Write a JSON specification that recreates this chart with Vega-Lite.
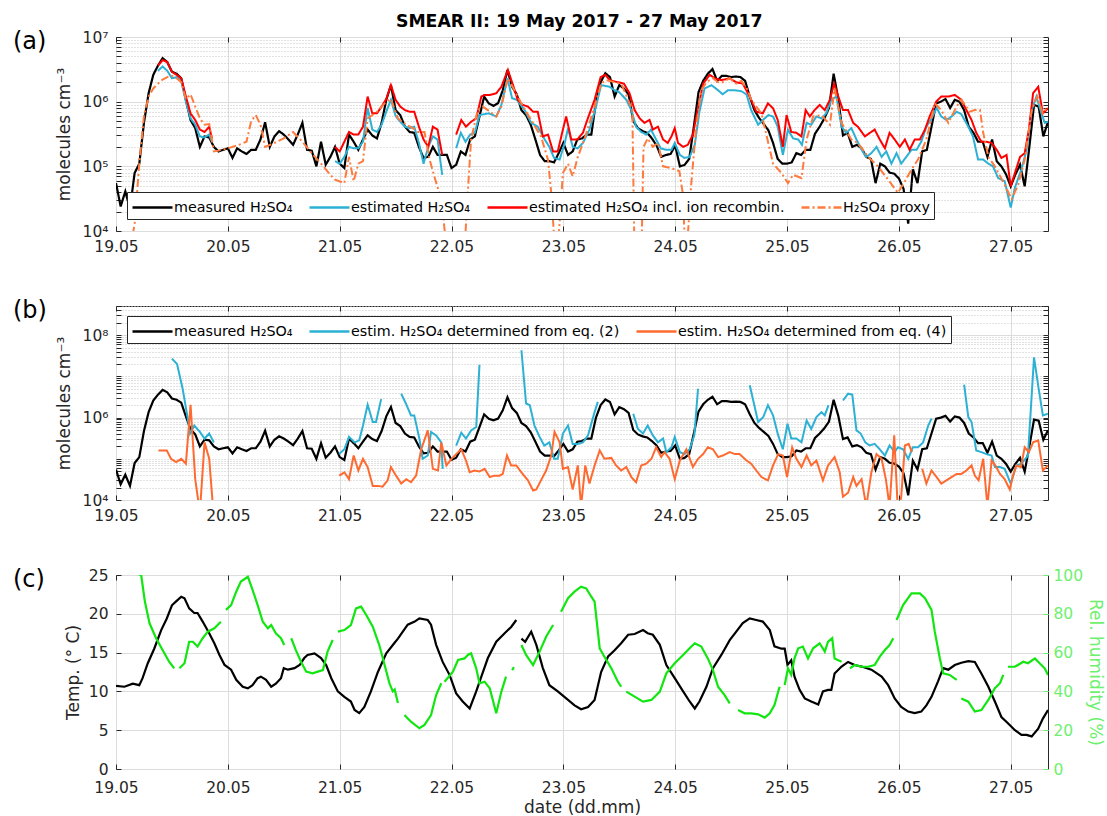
{
"$schema": "https://vega.github.io/schema/vega-lite/v6.json",
"padding": {"left": 12, "top": 13, "right": 4, "bottom": 0},
"title": {"text": "SMEAR II: 19 May 2017 - 27 May 2017", "fontSize": 17.3, "fontWeight": "bold", "anchor": "middle", "color": "#000", "offset": -1, "dx": 21},
"datasets": {
"meas": [{"h":0,"v":5.5e4},{"h":1,"v":2.4e4},{"h":2,"v":4.1e4},{"h":3,"v":2.2e4},{"h":4,"v":7.9e4},{"h":5,"v":1.1e5},{"h":6,"v":4.7e5},{"h":7,"v":1.35e6},{"h":8,"v":2.6e6},{"h":9,"v":3.6e6},{"h":10,"v":4.7e6},{"h":11,"v":4.1e6},{"h":12,"v":2.9e6},{"h":13,"v":2.7e6},{"h":14,"v":2.3e6},{"h":15,"v":1.07e6},{"h":16,"v":5.2e5},{"h":17,"v":3.9e5},{"h":18,"v":2.0e5},{"h":19,"v":2.9e5},{"h":20,"v":2.8e5},{"h":21,"v":2.0e5},{"h":22,"v":1.7e5},{"h":23,"v":1.8e5},{"h":24,"v":1.9e5},{"h":25,"v":1.35e5},{"h":26,"v":1.9e5},{"h":27,"v":1.7e5},{"h":28,"v":1.55e5},{"h":29,"v":1.8e5},{"h":30,"v":1.8e5},{"h":31,"v":2.6e5},{"h":32,"v":4.8e5},{"h":33,"v":2.0e5},{"h":34,"v":2.9e5},{"h":35,"v":3.5e5},{"h":36,"v":3.1e5},{"h":37,"v":2.6e5},{"h":38,"v":2.15e5},{"h":39,"v":3.1e5},{"h":40,"v":4.7e5},{"h":41,"v":1.8e5},{"h":42,"v":1.75e5},{"h":43,"v":1.0e5},{"h":44,"v":2.4e5},{"h":45,"v":1.06e5},{"h":46,"v":1.4e5},{"h":47,"v":2.0e5},{"h":48,"v":1.1e5},{"h":49,"v":9.4e4},{"h":50,"v":3.1e5},{"h":51,"v":2.4e5},{"h":52,"v":1.8e5},{"h":53,"v":2.6e5},{"h":54,"v":3.7e5},{"h":55,"v":3.0e5},{"h":56,"v":2.7e5},{"h":57,"v":4.7e5},{"h":58,"v":1.07e6},{"h":59,"v":1.8e6},{"h":60,"v":7.4e5},{"h":61,"v":6.2e5},{"h":62,"v":4.1e5},{"h":63,"v":3.4e5},{"h":64,"v":3.3e5},{"h":65,"v":2.0e5},{"h":66,"v":1.35e5},{"h":67,"v":1.4e5},{"h":68,"v":2.0e5},{"h":69,"v":1.5e5},{"h":70,"v":1.5e5},{"h":71,"v":1.5e5},{"h":72,"v":9.4e4},{"h":73,"v":1.06e5},{"h":74,"v":1.7e5},{"h":75,"v":1.5e5},{"h":76,"v":2.6e5},{"h":77,"v":2.9e5},{"h":78,"v":5.9e5},{"h":79,"v":1.2e6},{"h":80,"v":9.4e5},{"h":81,"v":8.6e5},{"h":82,"v":9.5e5},{"h":83,"v":1.5e6},{"h":84,"v":3.1e6},{"h":85,"v":1.7e6},{"h":86,"v":1.3e6},{"h":87,"v":7.4e5},{"h":88,"v":6.2e5},{"h":89,"v":4.4e5},{"h":90,"v":2.6e5},{"h":91,"v":1.5e5},{"h":92,"v":1.2e5},{"h":93,"v":1.2e5},{"h":94,"v":1.15e5},{"h":95,"v":1.6e5},{"h":96,"v":2.3e5},{"h":97,"v":1.5e5},{"h":98,"v":1.7e5},{"h":99,"v":2.6e5},{"h":100,"v":2.7e5},{"h":101,"v":3.1e5},{"h":102,"v":3.1e5},{"h":103,"v":1.0e6},{"h":104,"v":2.0e6},{"h":105,"v":2.75e6},{"h":106,"v":2.4e6},{"h":107,"v":1.2e6},{"h":108,"v":1.8e6},{"h":109,"v":1.6e6},{"h":110,"v":1.3e6},{"h":111,"v":5.0e5},{"h":112,"v":3.9e5},{"h":113,"v":3.5e5},{"h":114,"v":3.3e5},{"h":115,"v":2.7e5},{"h":116,"v":2.1e5},{"h":117,"v":1.4e5},{"h":118,"v":1.5e5},{"h":119,"v":1.55e5},{"h":120,"v":2.1e5},{"h":121,"v":1.0e5},{"h":122,"v":1.05e5},{"h":123,"v":1.3e5},{"h":124,"v":4.1e5},{"h":125,"v":1.4e6},{"h":126,"v":2.1e6},{"h":127,"v":2.7e6},{"h":128,"v":3.2e6},{"h":129,"v":2.1e6},{"h":130,"v":2.5e6},{"h":131,"v":2.5e6},{"h":132,"v":2.4e6},{"h":133,"v":2.45e6},{"h":134,"v":2.4e6},{"h":135,"v":2.1e6},{"h":136,"v":1.2e6},{"h":137,"v":7.4e5},{"h":138,"v":5.6e5},{"h":139,"v":4.5e5},{"h":140,"v":3.6e5},{"h":141,"v":2.3e5},{"h":142,"v":1.3e5},{"h":143,"v":1.1e5},{"h":144,"v":1.1e5},{"h":145,"v":1.15e5},{"h":146,"v":1.6e5},{"h":147,"v":1.5e5},{"h":148,"v":1.8e5},{"h":149,"v":1.8e5},{"h":150,"v":3.2e5},{"h":151,"v":4.1e5},{"h":152,"v":5.5e5},{"h":153,"v":8.0e5},{"h":154,"v":2.7e6},{"h":155,"v":1.1e6},{"h":156,"v":3.0e5},{"h":157,"v":3.3e5},{"h":158,"v":2.0e5},{"h":159,"v":2.15e5},{"h":160,"v":1.9e5},{"h":161,"v":1.4e5},{"h":162,"v":1.3e5},{"h":163,"v":5.5e4},{"h":164,"v":1.1e5},{"h":165,"v":1.0e5},{"h":166,"v":8.0e4},{"h":167,"v":7.7e4},{"h":168,"v":6.5e4},{"h":169,"v":4.5e4},{"h":170,"v":1.3e4},{"h":171,"v":9.0e4},{"h":172,"v":5.5e4},{"h":173,"v":1.7e5},{"h":174,"v":1.8e5},{"h":175,"v":4.1e5},{"h":176,"v":9.4e5},{"h":177,"v":1.0e6},{"h":178,"v":1.1e6},{"h":179,"v":8.0e5},{"h":180,"v":1.07e6},{"h":181,"v":1.0e6},{"h":182,"v":7.4e5},{"h":183,"v":4.1e5},{"h":184,"v":3.3e5},{"h":185,"v":2.4e5},{"h":186,"v":2.4e5},{"h":187,"v":1.4e5},{"h":188,"v":2.6e5},{"h":189,"v":1.2e5},{"h":190,"v":1.0e5},{"h":191,"v":7.5e4},{"h":192,"v":4.9e4},{"h":193,"v":7.5e4},{"h":194,"v":1.06e5},{"h":195,"v":4.9e4},{"h":196,"v":2.0e5},{"h":197,"v":8.9e5},{"h":198,"v":8.4e5},{"h":199,"v":2.9e5},{"h":200,"v":4.9e5}],
"est": [{"h":9,"v":3.0e6},{"h":10,"v":3.5e6},{"h":11,"v":3.0e6},{"h":12,"v":2.3e6},{"h":13,"v":2.4e6},{"h":14,"v":2.1e6},{"h":15,"v":1.0e6},{"h":16,"v":5.5e5},{"h":17,"v":4.4e5},{"h":18,"v":2.9e5},{"h":19,"v":2.8e5},{"h":20,"v":3.1e5},{"h":20.6,"v":2.4e5},{"h":21,"v":null},
{"h":47,"v":1.2e5},{"h":48,"v":1.1e5},{"h":49,"v":1.4e5},{"h":50,"v":2.0e5},{"h":51,"v":1.9e5},{"h":52,"v":1.9e5},{"h":53,"v":2.4e5},{"h":54,"v":8.0e5},{"h":55,"v":3.7e5},{"h":56,"v":3.4e5},{"h":57,"v":4.4e5},{"h":58,"v":7.0e5},{"h":59,"v":1.07e6},{"h":60,"v":6.0e5},{"h":61,"v":4.9e5},{"h":62,"v":4.1e5},{"h":63,"v":3.9e5},{"h":64,"v":4.1e5},{"h":65,"v":2.3e5},{"h":66,"v":1.1e5},{"h":67,"v":2.0e5},{"h":68,"v":2.9e5},{"h":69,"v":2.6e5},{"h":70,"v":7.4e4},{"h":71.5,"v":null},
{"h":73,"v":1.9e5},{"h":74,"v":3.3e5},{"h":75,"v":2.4e5},{"h":76,"v":3.1e5},{"h":77,"v":3.3e5},{"h":78,"v":6.2e5},{"h":80,"v":6.6e5},{"h":81.6,"v":5.9e5},{"h":82.7,"v":8.9e5},{"h":84,"v":2.3e6},{"h":85,"v":1.13e6},{"h":86,"v":1.07e6},{"h":87.7,"v":7.4e5},{"h":89.1,"v":4.7e5},{"h":90.5,"v":4.1e5},{"h":92,"v":2.6e5},{"h":93,"v":2.0e5},{"h":94,"v":1.35e5},{"h":95.2,"v":1.27e5},{"h":96.3,"v":2.3e5},{"h":97,"v":3.9e5},{"h":98,"v":2.0e5},{"h":99.1,"v":1.9e5},{"h":100.2,"v":2.3e5},{"h":101.6,"v":3.7e5},{"h":103,"v":8.4e5},{"h":104.1,"v":1.8e6},{"h":105.9,"v":1.7e6},{"h":107,"v":1.5e6},{"h":108,"v":1.4e6},{"h":109.5,"v":1.07e6},{"h":110.6,"v":7.4e5},{"h":111.6,"v":4.1e5},{"h":112.7,"v":3.4e5},{"h":113.8,"v":3.1e5},{"h":114.8,"v":3.7e5},{"h":115.9,"v":2.6e5},{"h":116.9,"v":1.9e5},{"h":118.1,"v":1.8e5},{"h":119.2,"v":1.8e5},{"h":119.9,"v":2.3e5},{"h":121,"v":1.5e5},{"h":122,"v":1.35e5},{"h":123.1,"v":1.4e5},{"h":124.2,"v":2.15e5},{"h":125.2,"v":7.0e5},{"h":126.3,"v":1.6e6},{"h":127.8,"v":1.8e6},{"h":129.2,"v":1.5e6},{"h":130.2,"v":1.3e6},{"h":131.3,"v":1.5e6},{"h":132.8,"v":1.5e6},{"h":134.2,"v":1.45e6},{"h":135.3,"v":1.3e6},{"h":136.3,"v":7.4e5},{"h":137.8,"v":4.4e5},{"h":138.8,"v":5.2e5},{"h":140,"v":6.2e5},{"h":141,"v":5.9e5},{"h":142,"v":4.1e5},{"h":143.1,"v":1.5e5},{"h":144.2,"v":3.7e5},{"h":145.3,"v":2.7e5},{"h":146.4,"v":2.6e5},{"h":147.2,"v":2.15e5},{"h":148.2,"v":4.7e5},{"h":149.2,"v":4.4e5},{"h":150.3,"v":5.9e5},{"h":151.4,"v":5.5e5},{"h":152.4,"v":6.6e5},{"h":153.5,"v":1.07e6},{"h":154.6,"v":1.2e6},{"h":155.7,"v":4.1e5},{"h":156.7,"v":3.3e5},{"h":157.8,"v":3.9e5},{"h":158.9,"v":2.6e5},{"h":160,"v":1.8e5},{"h":161,"v":1.4e5},{"h":162.1,"v":1.6e5},{"h":163.2,"v":2.0e5},{"h":164.3,"v":1.4e5},{"h":165.3,"v":1.7e5},{"h":166.4,"v":1.1e5},{"h":167.5,"v":1.6e5},{"h":168.5,"v":1.1e5},{"h":169.6,"v":1.4e5},{"h":170.7,"v":1.8e5},{"h":171.8,"v":1.8e5},{"h":172.8,"v":2.4e5},{"h":173.9,"v":4.1e5},{"h":175,"v":5.5e5},{"h":176.1,"v":8.0e5},{"h":177.1,"v":5.9e5},{"h":178.2,"v":5.2e5},{"h":179.3,"v":5.9e5},{"h":180.4,"v":7.0e5},{"h":181.4,"v":6.4e5},{"h":182.9,"v":4.1e5},{"h":183.9,"v":2.9e5},{"h":185,"v":1.27e5},{"h":186.1,"v":1.27e5},{"h":187.2,"v":1.1e5},{"h":188.2,"v":1.0e5},{"h":189.3,"v":6.6e4},{"h":190.7,"v":5.9e4},{"h":192,"v":2.3e4},{"h":192.9,"v":4.7e4},{"h":194.3,"v":9.0e4},{"h":195.4,"v":1.8e5},{"h":196.5,"v":7.4e5},{"h":197.5,"v":1.2e6},{"h":198.6,"v":6.6e5},{"h":199.3,"v":4.7e5},{"h":200,"v":4.9e5}],
"red": [{"h":9,"v":3.6e6},{"h":10,"v":4.4e6},{"h":11,"v":4.1e6},{"h":12,"v":2.9e6},{"h":13,"v":2.6e6},{"h":14,"v":2.3e6},{"h":15,"v":1.2e6},{"h":16,"v":6.6e5},{"h":17,"v":5.2e5},{"h":18,"v":3.7e5},{"h":19,"v":3.4e5},{"h":20,"v":4.1e5},{"h":20.6,"v":2.7e5},{"h":21,"v":null},
{"h":47,"v":2.0e5},{"h":48,"v":1.7e5},{"h":49,"v":2.4e5},{"h":50,"v":3.4e5},{"h":51,"v":3.1e5},{"h":52,"v":3.1e5},{"h":53,"v":4.1e5},{"h":54,"v":1.2e6},{"h":55,"v":6.6e5},{"h":56,"v":6.6e5},{"h":57,"v":8.4e5},{"h":58,"v":1.1e6},{"h":59,"v":1.8e6},{"h":60,"v":1.07e6},{"h":61,"v":8.4e5},{"h":62,"v":7.4e5},{"h":63,"v":7.0e5},{"h":64,"v":7.0e5},{"h":65,"v":4.1e5},{"h":66,"v":2.6e5},{"h":67,"v":2.0e5},{"h":68,"v":4.1e5},{"h":69,"v":3.7e5},{"h":70,"v":1.5e5},{"h":71.5,"v":null},
{"h":73,"v":3.1e5},{"h":74.1,"v":5.2e5},{"h":75.1,"v":4.1e5},{"h":76.2,"v":4.9e5},{"h":77.3,"v":5.5e5},{"h":78.4,"v":1.2e6},{"h":79.1,"v":1.27e6},{"h":80.2,"v":1.27e6},{"h":81.6,"v":1.35e6},{"h":82.7,"v":1.7e6},{"h":84.1,"v":3.1e6},{"h":85.2,"v":1.8e6},{"h":86.2,"v":1.07e6},{"h":87.3,"v":8.9e5},{"h":88.4,"v":8.4e5},{"h":89.5,"v":7.0e5},{"h":90.5,"v":7.0e5},{"h":91.6,"v":2.9e5},{"h":92.7,"v":3.1e5},{"h":93.8,"v":1.7e5},{"h":94.8,"v":1.7e5},{"h":95.9,"v":3.7e5},{"h":96.6,"v":5.9e5},{"h":97.7,"v":2.6e5},{"h":99,"v":2.6e5},{"h":100.2,"v":3.3e5},{"h":101,"v":4.9e5},{"h":102.7,"v":1.07e6},{"h":104,"v":2.4e6},{"h":105,"v":2.6e6},{"h":106,"v":2.15e6},{"h":107.7,"v":2.0e6},{"h":109,"v":1.9e6},{"h":110.2,"v":1.35e6},{"h":111.3,"v":7.4e5},{"h":112.4,"v":5.5e5},{"h":113.4,"v":4.7e5},{"h":114.5,"v":5.2e5},{"h":115.2,"v":3.7e5},{"h":116.3,"v":4.1e5},{"h":117.4,"v":2.6e5},{"h":118.4,"v":2.3e5},{"h":119.2,"v":2.9e5},{"h":119.9,"v":3.9e5},{"h":120.6,"v":2.3e5},{"h":121.7,"v":2.0e5},{"h":122.7,"v":2.15e5},{"h":123.8,"v":3.1e5},{"h":124.9,"v":7.9e5},{"h":126,"v":1.9e6},{"h":127.4,"v":2.6e6},{"h":128.5,"v":2.3e6},{"h":129.9,"v":2.15e6},{"h":131.7,"v":2.3e6},{"h":133.1,"v":2.0e6},{"h":134.5,"v":1.9e6},{"h":136,"v":1.2e6},{"h":137.4,"v":7.0e5},{"h":138.8,"v":6.6e5},{"h":139.9,"v":9.4e5},{"h":141,"v":7.9e5},{"h":142,"v":5.2e5},{"h":143.1,"v":2.0e5},{"h":143.9,"v":6.2e5},{"h":144.9,"v":3.4e5},{"h":146,"v":3.3e5},{"h":147.1,"v":2.9e5},{"h":148,"v":7.4e5},{"h":148.9,"v":5.9e5},{"h":149.9,"v":7.4e5},{"h":151,"v":8.9e5},{"h":152.1,"v":7.4e5},{"h":153.2,"v":1.07e6},{"h":154.1,"v":1.9e6},{"h":155,"v":1.2e6},{"h":156,"v":7.4e5},{"h":157.1,"v":7.4e5},{"h":158.2,"v":4.7e5},{"h":159.2,"v":4.1e5},{"h":160.7,"v":2.9e5},{"h":161.8,"v":3.3e5},{"h":162.8,"v":3.7e5},{"h":163.9,"v":2.6e5},{"h":165,"v":1.9e5},{"h":166,"v":3.3e5},{"h":167.1,"v":2.6e5},{"h":168.2,"v":2.0e5},{"h":169.3,"v":2.6e5},{"h":170.3,"v":1.8e5},{"h":171.4,"v":2.6e5},{"h":172.5,"v":2.6e5},{"h":173.6,"v":3.7e5},{"h":174.6,"v":5.9e5},{"h":176,"v":1.0e6},{"h":177.1,"v":1.2e6},{"h":178.6,"v":1.2e6},{"h":180,"v":1.27e6},{"h":181.4,"v":1.07e6},{"h":182.5,"v":7.4e5},{"h":183.6,"v":5.2e5},{"h":184.6,"v":3.3e5},{"h":185.7,"v":2.4e5},{"h":186.8,"v":2.4e5},{"h":187.9,"v":2.3e5},{"h":189,"v":1.8e5},{"h":190,"v":1.35e5},{"h":191.1,"v":1.5e5},{"h":192,"v":4.9e4},{"h":192.9,"v":7.9e4},{"h":194,"v":1.4e5},{"h":195,"v":1.6e5},{"h":195.9,"v":3.7e5},{"h":196.8,"v":1.35e6},{"h":197.9,"v":1.7e6},{"h":198.9,"v":6.6e5},{"h":200,"v":7.9e5}],
"proxy": [{"h":3,"v":5e3},{"h":4,"v":1.3e4},{"h":5,"v":1.1e5},{"h":6,"v":6e5},{"h":7,"v":1.2e6},{"h":8,"v":1.6e6},{"h":9,"v":1.9e6},{"h":10,"v":2.2e6},{"h":11,"v":2.4e6},{"h":12,"v":2.5e6},{"h":13,"v":2.3e6},{"h":14,"v":2.0e6},{"h":15,"v":1.1e6},{"h":16,"v":1.3e6},{"h":17,"v":8.4e5},{"h":18,"v":5.5e5},{"h":19,"v":4.4e5},{"h":20,"v":4.5e5},{"h":21,"v":1.7e5},{"h":22,"v":1.75e5},{"h":24,"v":1.9e5},{"h":26,"v":2.1e5},{"h":28,"v":2.4e5},{"h":29,"v":5.0e5},{"h":30,"v":6.2e5},{"h":31,"v":4.4e5},{"h":32,"v":2.0e5},{"h":34,"v":2.3e5},{"h":36,"v":2.7e5},{"h":38,"v":3.4e5},{"h":40,"v":2.4e5},{"h":42,"v":1.6e5},{"h":44,"v":1.1e5},{"h":46,"v":7.4e4},{"h":47,"v":6.2e4},{"h":49,"v":5.5e4},{"h":50,"v":1.4e5},{"h":51,"v":5.9e4},{"h":52,"v":1.1e5},{"h":53,"v":1.2e5},{"h":54,"v":5.5e5},{"h":56,"v":7.0e5},{"h":58,"v":1.0e6},{"h":59,"v":1.1e6},{"h":60.5,"v":5.5e5},{"h":62.3,"v":4.4e5},{"h":63.7,"v":3.9e5},{"h":64.8,"v":3.4e5},{"h":66.2,"v":3.4e5},{"h":67.3,"v":1.27e5},{"h":68.3,"v":7.0e4},{"h":69.8,"v":3.1e4},{"h":71,"v":5e3},{"h":74.8,"v":5e3},{"h":75.4,"v":3.1e4},{"h":76.2,"v":2.6e5},{"h":77.6,"v":7.4e5},{"h":78.7,"v":8.4e5},{"h":79.8,"v":7.4e5},{"h":81.6,"v":5.9e5},{"h":82.7,"v":8.4e5},{"h":84.1,"v":2.3e6},{"h":85.5,"v":1.5e6},{"h":87,"v":9.4e5},{"h":89.1,"v":5.2e5},{"h":91.2,"v":2.9e5},{"h":92.7,"v":1.27e5},{"h":93.4,"v":3.9e4},{"h":94.2,"v":5e3},{"h":94.8,"v":5e3},{"h":95.9,"v":7.9e4},{"h":97,"v":1.1e5},{"h":98,"v":7.0e4},{"h":99.1,"v":1.4e5},{"h":100.5,"v":2.6e5},{"h":102.7,"v":8.4e5},{"h":104.1,"v":1.9e6},{"h":105.2,"v":2.15e6},{"h":107,"v":2.0e6},{"h":108.4,"v":1.9e6},{"h":109.9,"v":1.07e6},{"h":110.8,"v":7.4e5},{"h":111.4,"v":1e3},{"h":112.6,"v":1e3},{"h":113.2,"v":2.0e5},{"h":114.1,"v":2.7e5},{"h":115.2,"v":2.0e5},{"h":116.3,"v":2.3e5},{"h":117.4,"v":1.0e5},{"h":119.2,"v":9.4e4},{"h":120.9,"v":8.4e4},{"h":121.6,"v":3.9e4},{"h":122.3,"v":3e3},{"h":123.4,"v":4.9e4},{"h":124.5,"v":4.1e5},{"h":125.6,"v":1.5e6},{"h":126.7,"v":2.0e6},{"h":128.1,"v":2.3e6},{"h":129.2,"v":2.0e6},{"h":130.2,"v":2.0e6},{"h":131.7,"v":2.3e6},{"h":133.1,"v":1.9e6},{"h":134.2,"v":2.1e6},{"h":135.6,"v":1.5e6},{"h":136.3,"v":1.07e6},{"h":138.5,"v":6.6e5},{"h":141,"v":1.1e5},{"h":142.8,"v":7.9e4},{"h":144.2,"v":5.5e4},{"h":145.3,"v":7.4e4},{"h":147.1,"v":6.6e4},{"h":148.2,"v":2.6e5},{"h":149.6,"v":5.9e5},{"h":151.4,"v":6.2e5},{"h":153.2,"v":4.4e5},{"h":154.2,"v":1.6e6},{"h":155.7,"v":4.7e5},{"h":157.8,"v":2.6e5},{"h":159.2,"v":2.3e5},{"h":161.4,"v":1.4e5},{"h":163.5,"v":1.0e5},{"h":165.7,"v":6.2e4},{"h":167.8,"v":3.9e4},{"h":169.3,"v":5.9e4},{"h":170.7,"v":8.9e4},{"h":172.1,"v":1.27e5},{"h":173.9,"v":2.6e5},{"h":175.7,"v":9.4e5},{"h":177.1,"v":7.4e5},{"h":178.6,"v":4.7e5},{"h":180.4,"v":8.4e5},{"h":181.4,"v":1.07e6},{"h":183.2,"v":7.0e5},{"h":184.3,"v":7.4e5},{"h":185.4,"v":7.4e5},{"h":186.1,"v":3.3e5},{"h":187.2,"v":1.4e5},{"h":188.6,"v":1.0e5},{"h":190.7,"v":5.2e4},{"h":192.2,"v":3.1e4},{"h":193.6,"v":5.2e4},{"h":195,"v":1.27e5},{"h":196.5,"v":7.4e5},{"h":197.7,"v":1.2e6},{"h":198.9,"v":6.6e5},{"h":200,"v":8.4e5}],
"eq2": [{"h":12,"v":2.7e7},{"h":13.1,"v":2.0e7},{"h":14.3,"v":5.0e6},{"h":15.4,"v":9.4e5},{"h":15.9,"v":4.1e5},{"h":16.8,"v":6.4e5},{"h":18,"v":4.5e5},{"h":19,"v":3.1e5},{"h":20,"v":4.1e5},{"h":21,"v":2.5e5},{"h":22,"v":null},
{"h":47.9,"v":1.3e5},{"h":49,"v":1.7e5},{"h":50,"v":3.4e5},{"h":51.2,"v":2.5e5},{"h":52.2,"v":2.8e5},{"h":53,"v":6.4e5},{"h":54,"v":2.05e6},{"h":55.1,"v":7.8e5},{"h":55.8,"v":7.8e5},{"h":56.9,"v":2.8e6},{"h":59,"v":null},
{"h":61.2,"v":3.8e6},{"h":62.2,"v":2.2e6},{"h":63.3,"v":1.13e6},{"h":64,"v":1.13e6},{"h":65.1,"v":3.1e5},{"h":65.8,"v":1.0e5},{"h":66.9,"v":1.2e5},{"h":67.6,"v":4.5e5},{"h":68.7,"v":3.7e5},{"h":69.8,"v":2.5e5},{"h":70.1,"v":5.7e4},{"h":71.5,"v":null},
{"h":73,"v":2.1e5},{"h":74.1,"v":4.3e5},{"h":75.1,"v":3.1e5},{"h":76.2,"v":4.9e5},{"h":77.3,"v":5.9e5},{"h":78,"v":1.9e7},{"h":83,"v":null},
{"h":87,"v":4.3e7},{"h":88,"v":2.2e6},{"h":88.8,"v":2.0e6},{"h":89.8,"v":6.4e5},{"h":90.9,"v":3.4e5},{"h":91.9,"v":2.1e5},{"h":93,"v":2.5e5},{"h":94,"v":1.0e5},{"h":94.8,"v":1.0e5},{"h":95.9,"v":4.1e5},{"h":97,"v":6.4e5},{"h":98,"v":2.3e5},{"h":99.1,"v":2.3e5},{"h":100.2,"v":2.5e5},{"h":101.3,"v":3.7e5},{"h":102.7,"v":1.36e6},{"h":103.4,"v":2.4e6},{"h":106,"v":null},
{"h":111,"v":1.24e6},{"h":112,"v":5.3e5},{"h":113.1,"v":4.1e5},{"h":114.1,"v":6.4e5},{"h":115.2,"v":3.7e5},{"h":116.3,"v":2.5e5},{"h":117.4,"v":3.1e5},{"h":118.1,"v":1.45e5},{"h":119.2,"v":1.9e5},{"h":119.9,"v":3.4e5},{"h":121,"v":1.45e5},{"h":122,"v":1.3e5},{"h":123.1,"v":1.7e5},{"h":124.1,"v":3.7e5},{"h":124.9,"v":5.0e6},{"h":130,"v":null},
{"h":136,"v":6.1e6},{"h":137.8,"v":7.8e5},{"h":138.9,"v":1.03e6},{"h":139.9,"v":2.0e6},{"h":141,"v":1.13e6},{"h":142.1,"v":3.7e5},{"h":143.1,"v":1.7e5},{"h":144.1,"v":7.1e5},{"h":144.9,"v":3.1e5},{"h":146,"v":3.1e5},{"h":147.1,"v":2.5e5},{"h":148.2,"v":8.5e5},{"h":149.2,"v":5.3e5},{"h":150.3,"v":1.03e6},{"h":151.4,"v":1.36e6},{"h":152.1,"v":1.13e6},{"h":152.9,"v":2.0e6},{"h":154.5,"v":null},
{"h":156,"v":2.6e6},{"h":157.1,"v":3.8e6},{"h":158,"v":3.6e6},{"h":158.9,"v":4.9e5},{"h":159.8,"v":4.1e5},{"h":160.8,"v":2.5e5},{"h":161.7,"v":2.1e5},{"h":162.8,"v":2.3e5},{"h":163.9,"v":1.7e5},{"h":165,"v":1.2e5},{"h":166,"v":2.1e5},{"h":167.1,"v":1.45e5},{"h":167.8,"v":1.9e5},{"h":168.9,"v":1.7e5},{"h":170,"v":1.0e5},{"h":171,"v":1.9e5},{"h":172.1,"v":1.9e5},{"h":173.2,"v":2.5e5},{"h":174.3,"v":6.4e5},{"h":175,"v":9.4e5},{"h":178,"v":null},
{"h":182,"v":6.3e6},{"h":182.9,"v":1.03e6},{"h":183.6,"v":7.8e5},{"h":184.6,"v":1.6e5},{"h":185.7,"v":1.45e5},{"h":186.8,"v":1.3e5},{"h":187.9,"v":1.2e5},{"h":188.6,"v":6.3e4},{"h":189.7,"v":6.3e4},{"h":190.7,"v":5.7e4},{"h":192,"v":2.5e4},{"h":193.2,"v":6.9e4},{"h":194.3,"v":7.6e4},{"h":195.7,"v":1.2e5},{"h":197,"v":2.9e7},{"h":198,"v":5.0e6},{"h":198.9,"v":1.13e6},{"h":200,"v":1.24e6}],
"eq4": [{"h":9.1,"v":1.6e5},{"h":10.9,"v":1.6e5},{"h":11.8,"v":1.0e5},{"h":12.9,"v":8.3e4},{"h":14,"v":1.0e5},{"h":15,"v":7.6e4},{"h":16,"v":2.05e6},{"h":17,"v":3.2e4},{"h":18,"v":5e3},{"h":19,"v":2.5e5},{"h":20,"v":1.0e5},{"h":20.9,"v":5e3},{"h":22,"v":null},
{"h":47.9,"v":3.9e4},{"h":49,"v":4.7e4},{"h":50,"v":3.2e4},{"h":51,"v":1.2e5},{"h":52,"v":5.2e4},{"h":53,"v":1.0e5},{"h":54,"v":6.3e4},{"h":55.1,"v":2.2e4},{"h":56.2,"v":2.2e4},{"h":57.2,"v":2.1e4},{"h":58.3,"v":3.0e4},{"h":59,"v":6.3e4},{"h":60.1,"v":3.9e4},{"h":61.2,"v":2.5e4},{"h":62.3,"v":3.2e4},{"h":63.3,"v":2.7e4},{"h":64.4,"v":3.9e4},{"h":65.5,"v":1.7e5},{"h":66.9,"v":4.9e5},{"h":68,"v":5.7e4},{"h":69.1,"v":5.2e4},{"h":69.8,"v":2.5e5},{"h":70.9,"v":6.9e4},{"h":72,"v":1.0e5},{"h":73,"v":1.3e5},{"h":74.1,"v":1.7e5},{"h":75.1,"v":9.1e4},{"h":75.9,"v":4.7e4},{"h":76.9,"v":5.2e4},{"h":78,"v":4.9e4},{"h":79.1,"v":5.7e4},{"h":80.2,"v":3.6e4},{"h":81.2,"v":3.9e4},{"h":82.3,"v":3.9e4},{"h":83,"v":4.3e4},{"h":83.9,"v":1.2e5},{"h":84.8,"v":6.9e4},{"h":85.9,"v":6.9e4},{"h":87,"v":4.7e4},{"h":88.4,"v":3.0e4},{"h":89.5,"v":1.7e4},{"h":90.2,"v":1.8e4},{"h":91.2,"v":3.0e4},{"h":92.3,"v":5.2e4},{"h":93.4,"v":1.2e5},{"h":94.1,"v":4.5e5},{"h":95.2,"v":2.5e5},{"h":95.9,"v":5.7e4},{"h":97,"v":6.3e4},{"h":98,"v":1.8e4},{"h":99.1,"v":6.9e4},{"h":99.8,"v":7e3},{"h":100.7,"v":6.9e4},{"h":101.6,"v":2.5e4},{"h":102.7,"v":6.9e4},{"h":103.8,"v":1.6e5},{"h":104.8,"v":1.0e5},{"h":106.3,"v":1.05e5},{"h":107.3,"v":6.9e4},{"h":108.4,"v":5.2e4},{"h":109.5,"v":6.3e4},{"h":110.6,"v":3.6e4},{"h":111.6,"v":2.7e4},{"h":112.7,"v":6.9e4},{"h":113.8,"v":7.6e4},{"h":114.9,"v":1.0e5},{"h":115.9,"v":1.9e5},{"h":117,"v":1.1e5},{"h":117.7,"v":1.45e5},{"h":118.8,"v":1.0e5},{"h":119.9,"v":3.2e4},{"h":121,"v":9.1e4},{"h":122.4,"v":1.7e5},{"h":123.8,"v":6.3e4},{"h":124.9,"v":1.0e5},{"h":126,"v":1.3e5},{"h":127,"v":1.9e5},{"h":128.1,"v":1.7e5},{"h":129.2,"v":1.1e5},{"h":130.2,"v":1.2e5},{"h":131.7,"v":1.45e5},{"h":132.8,"v":1.3e5},{"h":133.8,"v":1.3e5},{"h":135.3,"v":9.1e4},{"h":136.3,"v":7.6e4},{"h":137.4,"v":5.2e4},{"h":138.5,"v":3.6e4},{"h":139.9,"v":3.0e4},{"h":141,"v":6.9e4},{"h":142.1,"v":1.3e5},{"h":143.1,"v":1.2e5},{"h":144,"v":3.6e4},{"h":145.1,"v":1.9e5},{"h":146,"v":1.0e5},{"h":147.1,"v":6.3e4},{"h":148.2,"v":1.2e5},{"h":149.2,"v":6.9e4},{"h":150.3,"v":9.1e4},{"h":151.7,"v":3.0e4},{"h":152.8,"v":6.9e4},{"h":154.2,"v":1.1e5},{"h":155.3,"v":4.7e4},{"h":156,"v":1.2e4},{"h":157.1,"v":1.5e4},{"h":158.2,"v":3.6e4},{"h":158.9,"v":2.2e4},{"h":160,"v":3.2e4},{"h":161,"v":7e3},{"h":162.1,"v":4.7e4},{"h":163.2,"v":1.3e5},{"h":164.3,"v":1.0e5},{"h":165.2,"v":3.2e4},{"h":166,"v":7e3},{"h":167,"v":3.7e5},{"h":167.8,"v":5e3},{"h":168.5,"v":1.2e4},{"h":169.3,"v":2.1e5},{"h":170.1,"v":2.3e5},{"h":170.8,"v":1.45e5},{"h":172,"v":null},
{"h":173,"v":5.7e4},{"h":173.9,"v":2.5e4},{"h":175,"v":5.2e4},{"h":176.1,"v":3.6e4},{"h":177.1,"v":2.5e4},{"h":178.2,"v":3.0e4},{"h":179.3,"v":3.6e4},{"h":180.4,"v":4.3e4},{"h":181.4,"v":4.3e4},{"h":182.5,"v":5.2e4},{"h":183.6,"v":6.9e4},{"h":184.3,"v":3.9e4},{"h":185.1,"v":3.0e4},{"h":186.1,"v":1.0e5},{"h":187,"v":7e3},{"h":187.9,"v":9.1e4},{"h":188.7,"v":6.9e4},{"h":189.7,"v":4.3e4},{"h":190.7,"v":3.2e4},{"h":191.8,"v":1.8e4},{"h":192.5,"v":3.9e4},{"h":193.2,"v":6.9e4},{"h":194.2,"v":6.3e4},{"h":195,"v":1.9e5},{"h":195.9,"v":1.45e5},{"h":196.8,"v":2.5e5},{"h":197.9,"v":2.8e5},{"h":198.9,"v":5.2e4},{"h":200,"v":6.9e4}],
"temp": [{"h":0,"T":10.7},{"h":1.8,"T":10.6},{"h":3.6,"T":11.0},{"h":5,"T":10.8},{"h":5.7,"T":11.7},{"h":6.8,"T":13.6},{"h":8.2,"T":15.5},{"h":9.7,"T":17.9},{"h":10.9,"T":19.4},{"h":12,"T":21.1},{"h":12.9,"T":21.6},{"h":14,"T":22.2},{"h":14.7,"T":22.0},{"h":15.7,"T":20.7},{"h":16.8,"T":20.1},{"h":17.5,"T":20.1},{"h":18.6,"T":19.0},{"h":20,"T":17.5},{"h":21.1,"T":16.2},{"h":22.2,"T":14.7},{"h":23.3,"T":13.4},{"h":24.7,"T":12.8},{"h":25.8,"T":11.5},{"h":27.2,"T":10.6},{"h":28.3,"T":10.4},{"h":29.3,"T":10.8},{"h":30.4,"T":11.7},{"h":31.1,"T":11.9},{"h":32.2,"T":11.5},{"h":33.3,"T":10.6},{"h":34.3,"T":11.0},{"h":35.4,"T":11.7},{"h":36,"T":13.0},{"h":36.9,"T":12.8},{"h":38.3,"T":13.0},{"h":39.4,"T":13.4},{"h":40.4,"T":14.3},{"h":41.1,"T":14.7},{"h":42.6,"T":14.9},{"h":44,"T":14.3},{"h":45.1,"T":13.4},{"h":46.2,"T":11.7},{"h":47.6,"T":10.0},{"h":49,"T":9.3},{"h":50.4,"T":8.7},{"h":51.2,"T":7.6},{"h":52.2,"T":7.2},{"h":53.3,"T":8.0},{"h":54.7,"T":10.0},{"h":56.2,"T":12.5},{"h":58,"T":14.9},{"h":59.7,"T":16.2},{"h":60.5,"T":16.8},{"h":62.6,"T":18.6},{"h":64.1,"T":19.0},{"h":65.1,"T":19.4},{"h":66.9,"T":19.2},{"h":67.6,"T":18.6},{"h":68.7,"T":16.0},{"h":70.1,"T":13.8},{"h":71.6,"T":12.1},{"h":73,"T":9.75},{"h":74.4,"T":8.7},{"h":75.9,"T":7.8},{"h":77.3,"T":10.0},{"h":78.4,"T":11.9},{"h":79.8,"T":14.3},{"h":81.6,"T":16.4},{"h":83.4,"T":17.5},{"h":84.8,"T":18.3},{"h":85.9,"T":19.2},{"h":86.5,"T":null},{"h":87,"T":16.8},{"h":87.8,"T":16.4},{"h":89.1,"T":17.7},{"h":90.2,"T":16.0},{"h":91.6,"T":13.0},{"h":93,"T":10.8},{"h":94.8,"T":10.0},{"h":97,"T":8.9},{"h":98.4,"T":8.2},{"h":99.8,"T":7.7},{"h":101.3,"T":8.0},{"h":102.7,"T":8.9},{"h":104.1,"T":12.5},{"h":105.6,"T":14.5},{"h":107,"T":15.3},{"h":108.4,"T":16.2},{"h":109.9,"T":17.3},{"h":111.3,"T":17.4},{"h":113.1,"T":17.9},{"h":114.1,"T":17.5},{"h":115.2,"T":17.3},{"h":116.7,"T":16.0},{"h":118.1,"T":13.4},{"h":119.9,"T":11.7},{"h":121.7,"T":10.0},{"h":123.1,"T":8.7},{"h":124.2,"T":7.8},{"h":125.2,"T":8.7},{"h":126.7,"T":10.6},{"h":128.1,"T":13.0},{"h":129.9,"T":14.7},{"h":131.7,"T":16.6},{"h":133.1,"T":17.7},{"h":134.5,"T":18.8},{"h":136,"T":19.4},{"h":137.4,"T":19.2},{"h":138.8,"T":19.0},{"h":140.3,"T":17.9},{"h":141.3,"T":15.8},{"h":142.8,"T":15.5},{"h":143.5,"T":15.5},{"h":144.1,"T":13.4},{"h":144.9,"T":14.0},{"h":145.6,"T":11.9},{"h":146.7,"T":10.2},{"h":147.8,"T":9.1},{"h":149.2,"T":8.7},{"h":150.7,"T":8.3},{"h":151.7,"T":10.0},{"h":152.8,"T":10.2},{"h":153.5,"T":10.2},{"h":154.2,"T":12.3},{"h":155.7,"T":13.2},{"h":157.1,"T":13.8},{"h":158.5,"T":13.4},{"h":160,"T":13.2},{"h":162.1,"T":12.8},{"h":164.3,"T":11.9},{"h":165.7,"T":10.8},{"h":167.1,"T":9.1},{"h":168.5,"T":8.0},{"h":170,"T":7.4},{"h":171.4,"T":7.2},{"h":172.8,"T":7.4},{"h":173.9,"T":8.2},{"h":175,"T":9.3},{"h":176.4,"T":11.3},{"h":177.5,"T":13.0},{"h":178.6,"T":12.8},{"h":180,"T":13.4},{"h":181.4,"T":13.7},{"h":182.9,"T":13.9},{"h":184.3,"T":13.8},{"h":185.7,"T":12.3},{"h":187.2,"T":10.6},{"h":188.6,"T":8.7},{"h":190,"T":6.7},{"h":191.4,"T":5.9},{"h":192.9,"T":5.0},{"h":194.3,"T":4.4},{"h":195.4,"T":4.4},{"h":196.5,"T":4.2},{"h":197.9,"T":5.2},{"h":198.9,"T":6.5},{"h":200,"T":7.6}],
"rh": [{"h":3.5,"RH":103},{"h":4,"RH":101},{"h":5.4,"RH":100},{"h":6.2,"RH":86.3},{"h":7.2,"RH":75.1},{"h":8.6,"RH":67.4},{"h":10,"RH":61.3},{"h":11.4,"RH":55.3},{"h":12.5,"RH":51.9},{"h":13,"RH":null},{"h":13.6,"RH":51.9},{"h":14.7,"RH":54.5},{"h":15.7,"RH":65.6},{"h":16.5,"RH":65.6},{"h":17.5,"RH":63.1},{"h":18.6,"RH":67.4},{"h":19.7,"RH":70.8},{"h":21.1,"RH":72.5},{"h":22.5,"RH":75.9},{"h":23,"RH":null},{"h":23.6,"RH":82.0},{"h":24.7,"RH":84.5},{"h":25.8,"RH":91.4},{"h":26.8,"RH":96.6},{"h":28.3,"RH":99.1},{"h":29.3,"RH":92.3},{"h":30.4,"RH":84.5},{"h":31.5,"RH":75.9},{"h":32.6,"RH":72.5},{"h":33.3,"RH":74.2},{"h":34.3,"RH":69.9},{"h":35.4,"RH":67.4},{"h":36.1,"RH":63.9},{"h":36.8,"RH":null},{"h":37.6,"RH":67.4},{"h":38.6,"RH":61.3},{"h":39.7,"RH":55.3},{"h":40.8,"RH":50.2},{"h":42.2,"RH":49.3},{"h":43.3,"RH":50.2},{"h":44.4,"RH":51.0},{"h":45.4,"RH":60.5},{"h":46.5,"RH":66.5},{"h":47,"RH":null},{"h":47.6,"RH":70.8},{"h":49,"RH":71.6},{"h":50.4,"RH":74.2},{"h":51.5,"RH":82.8},{"h":52.6,"RH":83.7},{"h":53.7,"RH":79.4},{"h":55.1,"RH":73.4},{"h":56.5,"RH":63.9},{"h":57.6,"RH":54},{"h":58.7,"RH":44},{"h":59.4,"RH":40},{"h":59.8,"RH":41},{"h":60.5,"RH":34},{"h":61.2,"RH":null},{"h":61.9,"RH":27.8},{"h":63.3,"RH":24.4},{"h":65.1,"RH":21.0},{"h":66.2,"RH":22.7},{"h":67.6,"RH":27.8},{"h":68.7,"RH":38.1},{"h":69.8,"RH":44.2},{"h":70.2,"RH":null},{"h":70.5,"RH":45.0},{"h":72.3,"RH":50.2},{"h":73.4,"RH":56.2},{"h":74.8,"RH":57.0},{"h":75.5,"RH":58.8},{"h":76.2,"RH":59.6},{"h":77.3,"RH":51.9},{"h":78,"RH":44.2},{"h":79.1,"RH":45.0},{"h":80.2,"RH":41.6},{"h":81.6,"RH":28.7},{"h":82.7,"RH":39.9},{"h":83.7,"RH":47.6},{"h":84.4,"RH":null},{"h":85,"RH":51.0},{"h":85.4,"RH":52.5},{"h":86,"RH":null},{"h":87,"RH":63.9},{"h":88,"RH":58.8},{"h":89.5,"RH":53.6},{"h":90.9,"RH":60.5},{"h":92.3,"RH":68.2},{"h":93.8,"RH":74.2},{"h":94.6,"RH":null},{"h":95.5,"RH":81.1},{"h":97,"RH":88.0},{"h":98.4,"RH":91.4},{"h":99.8,"RH":94.0},{"h":100.9,"RH":93.1},{"h":102,"RH":88.8},{"h":102.7,"RH":86.3},{"h":103.8,"RH":62.2},{"h":104.8,"RH":57.9},{"h":106.3,"RH":51.9},{"h":107.7,"RH":45.0},{"h":108.4,"RH":42.4},{"h":109,"RH":null},{"h":109.5,"RH":39.9},{"h":111.3,"RH":37.3},{"h":113.1,"RH":34.7},{"h":114.9,"RH":35.6},{"h":116.7,"RH":39.9},{"h":118.1,"RH":49.3},{"h":119.9,"RH":54.5},{"h":121.7,"RH":58.8},{"h":123.1,"RH":62.2},{"h":124.2,"RH":64.8},{"h":125.6,"RH":63.1},{"h":127,"RH":57.0},{"h":128.1,"RH":51.0},{"h":129.2,"RH":42.4},{"h":130.6,"RH":38.1},{"h":131.7,"RH":33.8},{"h":132.6,"RH":null},{"h":133.5,"RH":30.4},{"h":134.9,"RH":28.7},{"h":136.3,"RH":28.7},{"h":137.8,"RH":28.2},{"h":139.2,"RH":26.5},{"h":140.3,"RH":28.7},{"h":141.3,"RH":33.0},{"h":142.4,"RH":42.4},{"h":143,"RH":null},{"h":143.5,"RH":43.3},{"h":144.2,"RH":51.9},{"h":144.9,"RH":48.5},{"h":145.6,"RH":57.0},{"h":146.4,"RH":62.2},{"h":147.4,"RH":63.1},{"h":148.5,"RH":57.0},{"h":149.6,"RH":62.2},{"h":151,"RH":64.8},{"h":152.1,"RH":60.5},{"h":152.8,"RH":65.6},{"h":153.7,"RH":67.4},{"h":154.2,"RH":57.0},{"h":155.7,"RH":55.3},{"h":156.5,"RH":null},{"h":157.5,"RH":51.9},{"h":158.5,"RH":53.6},{"h":160,"RH":52.7},{"h":161.4,"RH":52.7},{"h":162.8,"RH":53.6},{"h":163.9,"RH":57.9},{"h":165,"RH":61.3},{"h":166,"RH":63.9},{"h":166.8,"RH":67.4},{"h":167.2,"RH":null},{"h":167.5,"RH":76.8},{"h":168.9,"RH":84.5},{"h":170.7,"RH":90.5},{"h":172.5,"RH":90.5},{"h":173.6,"RH":88.0},{"h":175,"RH":82.0},{"h":175.7,"RH":70.8},{"h":176.8,"RH":57.0},{"h":177.5,"RH":49.3},{"h":178.9,"RH":48.5},{"h":180.4,"RH":45.9},{"h":181,"RH":null},{"h":181.4,"RH":36.4},{"h":182.9,"RH":34.7},{"h":184.3,"RH":29.6},{"h":185.7,"RH":30.4},{"h":187.2,"RH":35.6},{"h":188.6,"RH":41.6},{"h":189.7,"RH":44.2},{"h":190.4,"RH":48.5},{"h":191,"RH":null},{"h":191.4,"RH":52.7},{"h":192.9,"RH":52.7},{"h":194.7,"RH":55.3},{"h":195.7,"RH":54.5},{"h":197.2,"RH":57.0},{"h":198.2,"RH":54.5},{"h":199.3,"RH":51.9},{"h":200,"RH":48.5}]
},
"vconcat": [
{
"width": 932, "height": 194,
"title": {"text": "(a)", "anchor": "start", "frame": "group", "fontSize": 24, "fontWeight": "normal", "dx": -103, "dy": 33, "offset": -3, "baseline": "middle", "color": "#000"},
"encoding": {
"x": {"field": "h", "type": "quantitative", "scale": {"domain": [0, 200], "nice": false, "zero": false}, "axis": null},
"y": {"field": "v", "type": "quantitative", "scale": {"type": "log", "domain": [10000, 10000000], "nice": false}, "axis": null}
},
"layer": [
{"data": {"name": "meas"}, "mark": {"type": "line", "clip": true, "strokeWidth": 2.2, "invalid": "break-paths-filter-domains"},
 "encoding": {
  "x": {"field": "h", "type": "quantitative", "axis": {"values": [0,24,48,72,96,120,144,168,192], "labelExpr": "(19 + datum.value/24) + '.05'", "title": null}},
  "y": {"field": "v", "type": "quantitative", "axis": {"title": "molecules cm⁻³", "titlePadding": 9, "values": [10000,20000,30000,40000,50000,60000,70000,80000,90000,100000,200000,300000,400000,500000,600000,700000,800000,900000,1000000,2000000,3000000,4000000,5000000,6000000,7000000,8000000,9000000,10000000], "labelExpr": "datum.value==10000?'10⁴':datum.value==100000?'10⁵':datum.value==1000000?'10⁶':datum.value==10000000?'10⁷':''", "gridDash": {"condition": {"test": "datum.value==10000||datum.value==100000||datum.value==1000000||datum.value==10000000", "value": []}, "value": [1, 2]}, "gridColor": {"condition": {"test": "datum.value==10000||datum.value==100000||datum.value==1000000||datum.value==10000000", "value": "#dcdcdc"}, "value": "#c4c4c4"}}},
  "color": {"datum": "measured H₂SO₄", "scale": {"domain": ["measured H₂SO₄", "estimated H₂SO₄", "estimated H₂SO₄ incl. ion recombin.", "H₂SO₄ proxy"], "range": ["#000000", "#2cb1d5", "#ff0000", "#ff7a3d"]}, "legend": {"title": null, "orient": "none", "legendX": 11, "legendY": 155, "direction": "horizontal", "columns": 4}},
  "strokeDash": {"datum": "measured H₂SO₄", "scale": {"domain": ["measured H₂SO₄", "estimated H₂SO₄", "estimated H₂SO₄ incl. ion recombin.", "H₂SO₄ proxy"], "range": [[1,0],[1,0],[1,0],[8,3,2,3]]}, "legend": {"title": null, "orient": "none", "legendX": 11, "legendY": 155, "direction": "horizontal", "columns": 4}}}},
{"data": {"name": "est"}, "mark": {"type": "line", "clip": true, "strokeWidth": 2, "invalid": "break-paths-filter-domains"},
 "encoding": {"color": {"datum": "estimated H₂SO₄"}, "strokeDash": {"datum": "estimated H₂SO₄"}}},
{"data": {"name": "red"}, "mark": {"type": "line", "clip": true, "strokeWidth": 2, "invalid": "break-paths-filter-domains"},
 "encoding": {"color": {"datum": "estimated H₂SO₄ incl. ion recombin."}, "strokeDash": {"datum": "estimated H₂SO₄ incl. ion recombin."}}},
{"data": {"name": "proxy"}, "mark": {"type": "line", "clip": true, "strokeWidth": 2, "invalid": "break-paths-filter-domains"},
 "encoding": {"color": {"datum": "H₂SO₄ proxy"}, "strokeDash": {"datum": "H₂SO₄ proxy"}}},
{"data": {"name": "meas"}, "mark": {"type": "line", "opacity": 0, "clip": true},
 "encoding": {
  "x": {"field": "h", "type": "quantitative", "axis": {"orient": "top", "values": [0,24,48,72,96,120,144,168,192], "labels": false, "grid": false, "title": null}},
  "y": {"field": "v", "type": "quantitative", "axis": {"orient": "right", "values": [10000,20000,30000,40000,50000,60000,70000,80000,90000,100000,200000,300000,400000,500000,600000,700000,800000,900000,1000000,2000000,3000000,4000000,5000000,6000000,7000000,8000000,9000000,10000000], "labels": false, "grid": false, "title": null}}}}
],
"resolve": {"axis": {"x": "independent", "y": "independent"}}
},
{
"width": 932, "height": 194,
"title": {"text": "(b)", "anchor": "start", "frame": "group", "fontSize": 24, "fontWeight": "normal", "dx": -103, "dy": 33, "offset": -3, "baseline": "middle", "color": "#000"},
"encoding": {
"x": {"field": "h", "type": "quantitative", "scale": {"domain": [0, 200], "nice": false, "zero": false}, "axis": null},
"y": {"field": "v", "type": "quantitative", "scale": {"type": "log", "domain": [10000, 510000000], "nice": false}, "axis": null}
},
"layer": [
{"data": {"name": "meas"}, "mark": {"type": "line", "clip": true, "strokeWidth": 2.2, "invalid": "break-paths-filter-domains"},
 "encoding": {
  "x": {"field": "h", "type": "quantitative", "axis": {"values": [0,24,48,72,96,120,144,168,192], "labelExpr": "(19 + datum.value/24) + '.05'", "title": null}},
  "y": {"field": "v", "type": "quantitative", "axis": {"title": "molecules cm⁻³", "titlePadding": 9, "values": [10000,20000,30000,40000,50000,60000,70000,80000,90000,100000,200000,300000,400000,500000,600000,700000,800000,900000,1000000,2000000,3000000,4000000,5000000,6000000,7000000,8000000,9000000,10000000,20000000,30000000,40000000,50000000,60000000,70000000,80000000,90000000,100000000,200000000,300000000,400000000,500000000], "labelExpr": "datum.value==10000?'10⁴':datum.value==1000000?'10⁶':datum.value==100000000?'10⁸':''", "gridDash": {"condition": {"test": "datum.value==10000||datum.value==1000000||datum.value==100000000", "value": []}, "value": [1, 2]}, "gridColor": {"condition": {"test": "datum.value==10000||datum.value==1000000||datum.value==100000000", "value": "#dcdcdc"}, "value": "#c4c4c4"}}},
  "color": {"datum": "measured H₂SO₄", "scale": {"domain": ["measured H₂SO₄", "estim. H₂SO₄ determined from eq. (2)", "estim. H₂SO₄ determined from eq. (4)"], "range": ["#000000", "#2cb1d5", "#ff6a30"]}, "legend": {"title": null, "orient": "none", "legendX": 11, "legendY": 10, "direction": "horizontal", "columns": 3}}}},
{"data": {"name": "eq2"}, "mark": {"type": "line", "clip": true, "strokeWidth": 2, "invalid": "break-paths-filter-domains"},
 "encoding": {"color": {"datum": "estim. H₂SO₄ determined from eq. (2)"}}},
{"data": {"name": "eq4"}, "mark": {"type": "line", "clip": true, "strokeWidth": 2, "invalid": "break-paths-filter-domains"},
 "encoding": {"color": {"datum": "estim. H₂SO₄ determined from eq. (4)"}}},
{"data": {"name": "meas"}, "mark": {"type": "line", "opacity": 0, "clip": true},
 "encoding": {
  "x": {"field": "h", "type": "quantitative", "axis": {"orient": "top", "values": [0,24,48,72,96,120,144,168,192], "labels": false, "grid": false, "title": null}},
  "y": {"field": "v", "type": "quantitative", "axis": {"orient": "right", "values": [10000,20000,30000,40000,50000,60000,70000,80000,90000,100000,200000,300000,400000,500000,600000,700000,800000,900000,1000000,2000000,3000000,4000000,5000000,6000000,7000000,8000000,9000000,10000000,20000000,30000000,40000000,50000000,60000000,70000000,80000000,90000000,100000000,200000000,300000000,400000000,500000000], "labels": false, "grid": false, "title": null}}}}
],
"resolve": {"axis": {"x": "independent", "y": "independent"}}
},
{
"width": 932, "height": 194,
"title": {"text": "(c)", "anchor": "start", "frame": "group", "fontSize": 24, "fontWeight": "normal", "dx": -103, "dy": 33, "offset": -3, "baseline": "middle", "color": "#000"},
"layer": [
{"data": {"name": "temp"}, "mark": {"type": "line", "clip": true, "strokeWidth": 2.2, "color": "#000000", "invalid": "break-paths-filter-domains"},
 "encoding": {
 "x": {"field": "h", "type": "quantitative", "scale": {"domain": [0, 200], "nice": false, "zero": false}, "axis": {"values": [0,24,48,72,96,120,144,168,192], "labelExpr": "(19 + datum.value/24) + '.05'", "title": "date (dd.mm)", "labelPadding": 16, "titlePadding": 4}},
 "y": {"field": "T", "type": "quantitative", "scale": {"domain": [0, 25], "nice": false}, "axis": {"title": "Temp. (° C)", "values": [0,5,10,15,20,25], "titlePadding": 6}}}},
{"data": {"name": "rh"}, "mark": {"type": "line", "clip": true, "strokeWidth": 2.2, "color": "#11e611", "invalid": "break-paths-filter-domains"},
 "encoding": {
 "x": {"field": "h", "type": "quantitative", "axis": null},
 "y": {"field": "RH", "type": "quantitative", "scale": {"domain": [0, 100], "nice": false}, "axis": {"orient": "right", "title": "Rel. humidity (%)", "values": [0,20,40,60,80,100], "grid": false, "labelColor": "#6ef06e", "titleColor": "#6ef06e", "tickColor": "#6ef06e", "labelPadding": 10, "titlePadding": 3}}}},
{"data": {"name": "temp"}, "mark": {"type": "line", "opacity": 0, "clip": true},
 "encoding": {
 "x": {"field": "h", "type": "quantitative", "axis": {"orient": "top", "values": [0,24,48,72,96,120,144,168,192], "labels": false, "grid": false, "title": null}},
 "y": {"field": "T", "type": "quantitative", "axis": null}}}
],
"resolve": {"scale": {"y": "independent"}, "axis": {"x": "independent"}}
}
],
"spacing": 43,
"resolve": {"scale": {"color": "independent", "strokeDash": "independent"}},
"config": {
"font": "DejaVu Sans",
"view": {"stroke": "#262626", "strokeWidth": 1},
"axis": {"labelFontSize": 15.5, "labelColor": "#262626", "titleFontSize": 17, "titleColor": "#262626", "titleFontWeight": "normal", "gridColor": "#dcdcdc", "domain": false, "tickColor": "#262626", "tickSize": -5, "labelPadding": 13, "grid": true, "labelFlush": false, "labelOverlap": false},
"legend": {"symbolType": "M-2,0H2", "symbolSize": 400, "symbolOffset": 10, "symbolStrokeWidth": 2.5, "labelFontSize": 14.3, "labelColor": "#000", "strokeColor": "#262626", "fillColor": "white", "padding": 4, "columnPadding": 11, "labelOffset": 10, "labelLimit": 500, "symbolLimit": 0}
}
}
